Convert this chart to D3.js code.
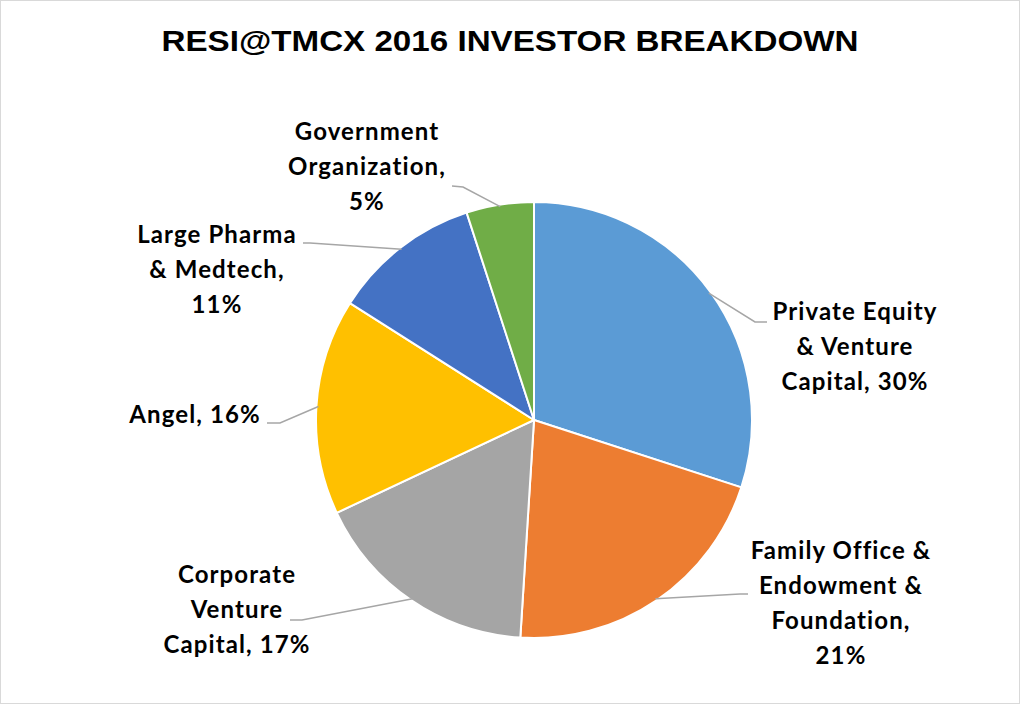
<!DOCTYPE html>
<html><head><meta charset="utf-8">
<script src="https://cdn.jsdelivr.net/npm/d3@7"></script>
<style>html,body{margin:0;padding:0;background:#fff;}svg{display:block;}</style>
</head><body>
<script>
// ---- data ----
const categories = ["Private Equity & Venture Capital","Family Office & Endowment & Foundation","Corporate Venture Capital","Angel","Large Pharma & Medtech","Government Organization"];
const values = [30, 21, 17, 16, 11, 5];
const labelLines = [
  ["Private Equity","& Venture","Capital, 30%"],
  ["Family Office &","Endowment &","Foundation,","21%"],
  ["Corporate","Venture","Capital, 17%"],
  ["Angel, 16%"],
  ["Large Pharma","& Medtech,","11%"],
  ["Government","Organization,","5%"]
];
const colors = ["#5B9BD5","#ED7D31","#A5A5A5","#FFC000","#4472C4","#70AD47"];
const title = "RESI@TMCX 2016 INVESTOR BREAKDOWN";

// ---- layout ----
const W = 1020, H = 704;
const cx = 534, cy = 420, R = 218;
const labelPos = [ // center x, first baseline, attach point, elbow
  {x:855, y:320, ax:767, ay:322, ex:755, ey:322},
  {x:841, y:559, ax:748, ay:594, ex:740, ey:594},
  {x:237, y:583, ax:290, ay:620, ex:302, ey:620},
  {x:195, y:423, ax:267, ay:423, ex:280, ey:423},
  {x:217, y:243, ax:303, ay:243, ex:310, ey:243},
  {x:367, y:140, ax:452, ay:186, ex:463, ey:187}
];

const svg = d3.select("body").append("svg").attr("width", W).attr("height", H);
svg.append("rect").attr("x",0.5).attr("y",0.5).attr("width",W-1).attr("height",H-1)
  .attr("fill","#fff").attr("stroke","#D9D9D9");

svg.append("text").attr("x", 510).attr("y", 51).attr("text-anchor","middle")
  .attr("font-family","'Liberation Sans', Arial, sans-serif").attr("font-weight","bold")
  .attr("font-size",30).attr("fill","#000")
  .attr("textLength", 697).attr("lengthAdjust","spacingAndGlyphs")
  .text(title);

const pie = d3.pie().sort(null).value(d => d)(values);
const arc = d3.arc().innerRadius(0).outerRadius(R);
const g = svg.append("g").attr("transform", `translate(${cx},${cy})`);
g.selectAll("path").data(pie).join("path")
  .attr("d", arc).attr("fill", (d,i) => colors[i])
  .attr("stroke","#fff").attr("stroke-width",2).attr("stroke-linejoin","round");

// leader lines
pie.forEach((d,i) => {
  const L = labelPos[i];
  const mid = (d.startAngle + d.endAngle)/2;
  const px = cx + (R-2)*Math.sin(mid), py = cy - (R-2)*Math.cos(mid);
  svg.append("polyline")
    .attr("points", `${L.ax},${L.ay} ${L.ex},${L.ey} ${px},${py}`)
    .attr("fill","none").attr("stroke","#A6A6A6").attr("stroke-width",1.5);
});

// labels
pie.forEach((d,i) => {
  const L = labelPos[i];
  const t = svg.append("text").attr("text-anchor","middle")
    .attr("font-family","Lato, 'Open Sans', sans-serif").attr("font-weight","bold")
    .attr("font-size",24).attr("letter-spacing",1.1).attr("fill","#000");
  labelLines[i].forEach((ln,k) => {
    t.append("tspan").attr("x", L.x).attr("y", L.y + k*35).text(ln);
  });
});
</script>
</body></html>
